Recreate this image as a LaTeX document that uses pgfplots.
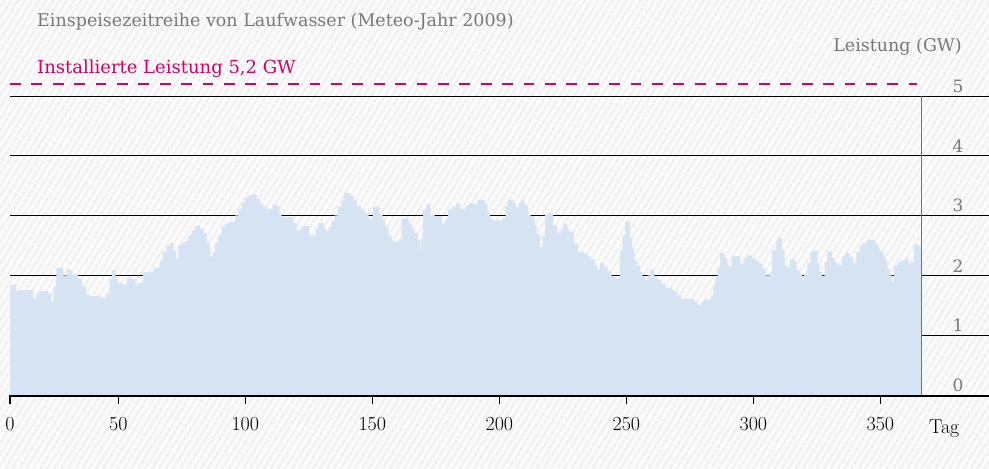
\documentclass[border=0pt]{standalone}
\usepackage{pgfplots}
\pgfplotsset{compat=1.18}
\usepackage{fontspec}
\usetikzlibrary{patterns.meta}
\newfontfamily\dv{DejaVu Serif}
\definecolor{fillblue}{RGB}{213,227,243}
\definecolor{mag}{RGB}{214,0,94}
\definecolor{txtgray}{RGB}{120,120,120}
\definecolor{bggray}{RGB}{251,251,251}
\definecolor{stripe}{RGB}{239,239,239}

\pgfplotstableread{
day val
7.36 1.84
9.85 1.74
11.17 1.755
16.42 1.615
17.73 1.70
19.04 1.74
22.32 1.70
23.63 1.56
24.55 1.82
25.6 2.13
28.23 2.005
29.8 2.105
31.51 2.02
34.13 1.95
35.71 1.81
37.41 1.68
38.73 1.655
42.0 1.644
43.98 1.615
45.29 1.70
46.6 1.94
47.52 2.09
48.83 1.94
49.88 1.88
51.46 1.85
53.43 1.97
55.13 1.94
56.71 1.85
57.76 1.88
59.72 2.055
62.35 2.06
63.92 2.13
66.29 2.255
67.47 2.39
69.04 2.505
70.35 2.55
71.67 2.42
72.72 2.28
73.64 2.505
74.95 2.544
76.26 2.57
77.57 2.67
78.88 2.755
80.20 2.827
82.17 2.78
83.48 2.71
84.79 2.55
86.10 2.32
87.15 2.39
88.07 2.544
89.38 2.67
90.70 2.827
92.01 2.866
93.32 2.894
95.94 3.005
97.26 3.116
98.57 3.227
99.88 3.30
101.19 3.338
102.51 3.355
104.48 3.283
105.79 3.20
107.10 3.144
108.15 3.116
110.78 3.188
112.09 3.155
113.40 3.033
114.32 2.977
118.92 2.877
120.23 2.755
121.28 2.78
122.46 2.827
125.22 2.67
127.83 2.78
128.88 2.877
130.85 2.78
131.77 2.74
132.81 2.81
133.86 2.91
135.17 3.005
136.48 3.144
137.80 3.255
138.71 3.377
141.34 3.338
142.65 3.255
143.96 3.155
145.67 3.088
147.24 3.033
148.56 2.95
150.26 3.155
152.89 3.016
154.07 2.933
155.12 2.81
156.43 2.655
157.74 2.588
158.79 2.566
160.37 2.60
161.42 2.95
162.99 2.966
164.30 2.866
165.62 2.766
166.67 2.71
167.98 2.588
168.90 2.42
169.16 2.616
169.95 3.10
171.26 3.188
172.84 3.016
174.54 2.994
177.43 2.866
178.74 2.95
179.79 3.10
181.36 3.144
182.94 3.20
184.65 3.116
186.76 3.171
188.07 3.21
189.78 3.188
191.36 3.266
194.25 3.20
195.30 3.044
196.35 2.95
197.66 2.922
201.20 2.96
202.51 3.155
203.43 3.266
205.53 3.21
206.45 3.144
207.76 3.21
208.42 3.255
209.99 3.171
211.30 3.016
212.35 2.988
213.93 2.838
214.71 2.688
216.02 2.477
216.94 2.655
217.99 3.033
219.57 3.044
221.14 2.838
222.85 2.71
224.16 2.766
225.08 2.866
226.79 2.755
227.84 2.727
229.41 2.532
230.99 2.394
233.35 2.366
234.92 2.321
235.97 2.271
237.55 2.171
238.60 2.10
239.65 2.21
241.22 2.155
242.53 2.077
244.24 1.977
245.94 1.95
247.52 2.42
248.57 2.67
249.49 2.905
251.46 2.632
252.24 2.45
253.16 2.255
254.08 2.171
255.39 2.06
256.44 1.977
257.49 1.921
258.41 2.005
259.33 2.10
261.04 1.977
262.35 1.932
263.66 1.866
265.37 1.80
267.60 1.766
268.91 1.727
270.22 1.671
271.54 1.605
272.85 1.616
274.56 1.605
276.79 1.56
278.10 1.505
279.41 1.56
280.33 1.60
283.35 1.671
284.27 1.81
285.06 1.977
285.98 2.132
286.90 2.377
288.60 2.30
289.65 2.188
290.31 2.155
291.62 2.321
294.77 2.199
296.48 2.30
297.79 2.338
299.50 2.282
301.08 2.243
302.39 2.199
303.70 2.116
304.75 2.005
306.45 2.044
307.36 2.42
309.07 2.577
309.72 2.627
311.30 2.42
312.35 2.171
313.40 2.132
314.32 2.266
316.02 2.238
316.94 2.088
318.25 2.016
319.17 1.921
319.96 2.021
321.27 2.21
322.59 2.394
323.90 2.42
325.21 2.21
326.13 2.06
327.05 1.988
328.10 2.227
329.15 2.405
330.98 2.30
331.77 2.227
332.95 2.171
334.92 2.321
336.23 2.377
337.94 2.31
339.25 2.21
340.56 2.394
341.88 2.505
342.93 2.544
344.50 2.57
345.16 2.60
347.78 2.544
348.83 2.466
349.75 2.41
351.06 2.338
351.98 2.255
352.77 2.116
353.69 2.005
354.61 1.894
355.39 2.171
356.97 2.227
358.28 2.255
359.60 2.282
361.17 2.199
361.96 2.227
363.27 2.522
365.11 2.494
366.0 2.494
}\laufwasser

\begin{document}
\begin{tikzpicture}
\useasboundingbox (0,0) rectangle (989bp,469bp);
\fill[bggray] (0,0) rectangle (989bp,469bp);
\fill[pattern={Lines[angle=58,distance=6bp,line width=2.5bp]}, pattern color=stripe] (0,0) rectangle (989bp,469bp);
\node[anchor=base west, inner sep=0, text=txtgray, font=\dv\fontsize{17.5bp}{20bp}\selectfont] at (37bp,442bp) {Einspeisezeitreihe von Laufwasser (Meteo-Jahr 2009)};
\node[anchor=base west, inner sep=0, text=mag, font=\dv\fontsize{18bp}{20bp}\selectfont] at (37bp,395bp) {Installierte Leistung 5,2 GW};
\node[anchor=base east, inner sep=0, text=txtgray, font=\dv\fontsize{17.5bp}{20bp}\selectfont] at (962bp,417.5bp) {Leistung (GW)};
\begin{axis}[
  at={(10bp,73.7bp)}, anchor=south west, scale only axis,
  width=911bp, height=299.3bp,
  xmin=7.36, xmax=366, ymin=0, ymax=5, clip=false,
  axis line style={draw=none},
  xtick={7.36,50,100,150,200,250,300,350},
  xticklabels={0,50,100,150,200,250,300,350},
  xtick pos=bottom, tick align=outside, major tick length=9bp,
  xtick style={black, line width=1.6bp},
  xticklabel style={font=\fontsize{20bp}{22bp}\selectfont, text=black, yshift=-9bp},
  ytick={0,1,2,3,4,5}, yticklabels={0,1,2,3,4,5},
  yticklabel pos=right, ytick style={draw=none},
  yticklabel style={anchor=south, xshift=28bp, yshift=0bp, text=txtgray, font=\dv\fontsize{17bp}{19bp}\selectfont},
]
\pgfplotsinvokeforeach{1,2,3,4,5}{
  \addplot[black, line width=1bp, forget plot] coordinates {(7.36,#1) (393,#1)};
}
\addplot[fill=fillblue, draw=none, const plot, forget plot] table[x=day, y=val] {\laufwasser} \closedcycle;
\addplot[black!55, line width=0.9bp, forget plot] coordinates {(366,0) (366,5)};
\addplot[black, line width=2.2bp, forget plot] coordinates {(7.36,-0.015) (393,-0.015)};
\addplot[mag, line width=2.5bp, dash pattern=on 10.7bp off 10.7bp, forget plot] coordinates {(7.36,5.2) (364.3,5.2)};
\end{axis}
\node[anchor=base west, inner sep=0, font=\fontsize{20bp}{22bp}\selectfont] at (929bp,36bp) {Tag};
\end{tikzpicture}
\end{document}
